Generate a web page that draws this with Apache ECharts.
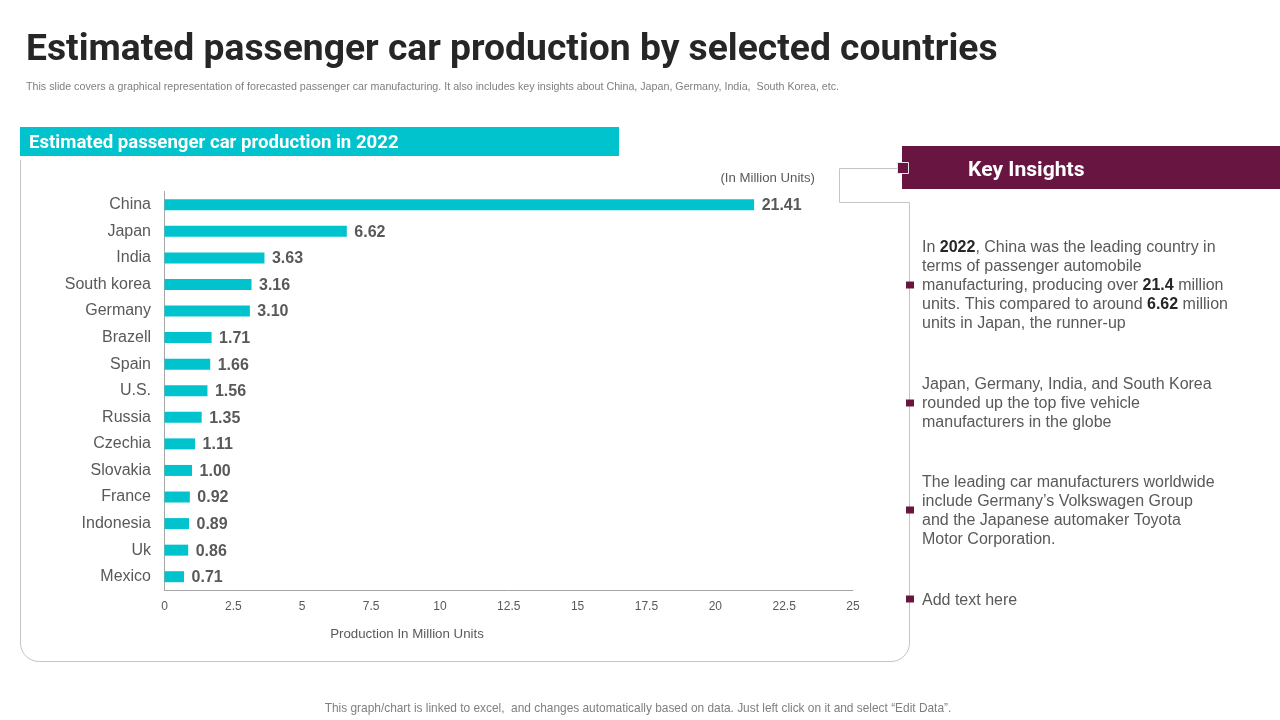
<!DOCTYPE html>
<html>
<head>
<meta charset="utf-8">
<title>Estimated passenger car production</title>
<script src="https://cdn.jsdelivr.net/npm/echarts@6/dist/echarts.min.js"></script>
<style>
html, body { margin: 0; padding: 0; background: #fff; }
#chart { width: 1280px; height: 720px; }
</style>
</head>
<body>
<div id="chart"></div>
<script>
// values
const countries = ['China', 'Japan', 'India', 'South korea', 'Germany', 'Brazell', 'Spain', 'U.S.', 'Russia', 'Czechia', 'Slovakia', 'France', 'Indonesia', 'Uk', 'Mexico'];
const production = [21.41, 6.62, 3.63, 3.16, 3.10, 1.71, 1.66, 1.56, 1.35, 1.11, 1.00, 0.92, 0.89, 0.86, 0.71];

const titleText = 'Estimated passenger car production by selected countries';
const subtitleText = 'This slide covers a graphical representation of forecasted passenger car manufacturing. It also includes key insights about China, Japan, Germany, India,  South Korea, etc.';
const bannerText = 'Estimated passenger car production in 2022';
const unitText = '(In Million Units)';
const axisTitle = 'Production In Million Units';
const footerText = 'This graph/chart is linked to excel,  and changes automatically based on data. Just left click on it and select \u201CEdit Data\u201D.';

// {b|..} marks the bold words
const insightLines = [
	[246, 'In {b|2022}, China was the leading country in'],
	[265, 'terms of passenger automobile'],
	[284, 'manufacturing, producing over {b|21.4} million'],
	[303, 'units. This compared to around {b|6.62} million'],
	[322, 'units in Japan, the runner-up'],
	[383, 'Japan, Germany, India, and South Korea'],
	[402, 'rounded up the top five vehicle'],
	[421, 'manufacturers in the globe'],
	[481, 'The leading car manufacturers worldwide'],
	[500, 'include Germany\u2019s Volkswagen Group'],
	[519, 'and the Japanese automaker Toyota'],
	[538, 'Motor Corporation.'],
	[599, 'Add text here'],
];
const bulletRows = [285, 403, 510, 599];

const TEAL = '#00c3cd';
const PURPLE = '#681641';
const GREY = '#595959';
const BODY_FONT = '"Liberation Sans", Arial, sans-serif';
const HEAD_FONT = 'Roboto, sans-serif';
const outline = { fill: null, stroke: '#c4c4c4', lineWidth: 1 };

// y is where the text centre should land, middle alignment sits a bit high
function label(x, y, text, size, color, extra, stretch) {
	return {
		type: 'text',
		x: x,
		y: y + size * 0.11,
		scaleX: stretch || 1,
		silent: true,
		style: Object.assign({
			text: text,
			fontFamily: BODY_FONT,
			fontSize: size,
			fill: color,
			verticalAlign: 'middle',
		}, extra || {}),
	};
}

const headStyle = { fontFamily: HEAD_FONT, fontWeight: 'bold' };

let shapes = [
	// panel outline + connector to the key insights box
	{ type: 'polyline', silent: true, shape: { points: [[20.5, 160], [20.5, 643]] }, style: outline },
	{ type: 'arc', silent: true, shape: { cx: 39, cy: 643, r: 18.5, startAngle: Math.PI / 2, endAngle: Math.PI, clockwise: true }, style: outline },
	{ type: 'polyline', silent: true, shape: { points: [[39, 661.5], [891, 661.5]] }, style: outline },
	{ type: 'arc', silent: true, shape: { cx: 891, cy: 643, r: 18.5, startAngle: 0, endAngle: Math.PI / 2, clockwise: true }, style: outline },
	{ type: 'polyline', silent: true, shape: { points: [[909.5, 643], [909.5, 202.5], [839.5, 202.5], [839.5, 168.5], [902, 168.5]] }, style: outline },
	{ type: 'rect', silent: true, shape: { x: 20, y: 127, width: 599, height: 29 }, style: { fill: TEAL } },
	{ type: 'rect', silent: true, shape: { x: 902, y: 146, width: 378, height: 43 }, style: { fill: PURPLE } },
	{ type: 'rect', silent: true, shape: { x: 897.5, y: 162.5, width: 11, height: 11 }, style: { fill: PURPLE, stroke: '#e6e6e6', lineWidth: 1 } },
	label(26, 47, titleText, 36, '#262626', headStyle, 1.034),
	label(26, 86, subtitleText, 10.7, '#7f7f7f'),
	label(29, 142, bannerText, 18, '#fff', headStyle, 1.034),
	label(968, 169, 'Key Insights', 20, '#fff', headStyle, 1.055),
	label(815, 177, unitText, 13.2, GREY, { align: 'right' }),
	label(407, 633, axisTitle, 13.3, GREY, { align: 'center' }),
	label(638, 707, footerText, 11.9, '#7f7f7f', { align: 'center' }),
];

for (let y of bulletRows) {
	shapes.push({ type: 'rect', silent: true, shape: { x: 906, y: y - 3.5, width: 8, height: 7 }, style: { fill: PURPLE } });
}
for (let [y, line] of insightLines) {
	shapes.push(label(922, y, line, 16, GREY, {
		rich: { b: { fontFamily: BODY_FONT, fontSize: 16, fontWeight: 'bold', fill: '#262626' } },
	}));
}

echarts.init(document.getElementById('chart')).setOption({
	animation: false,
	backgroundColor: '#fff',
	grid: { left: 164.5, top: 191.5, width: 688.5, height: 398.5, containLabel: false },
	xAxis: {
		type: 'value',
		min: 0,
		max: 25,
		interval: 2.5,
		splitLine: { show: false },
		axisTick: { show: false },
		axisLine: { show: true, lineStyle: { color: '#a6a6a6' } },
		axisLabel: { color: GREY, fontFamily: BODY_FONT, fontSize: 12, margin: 11 },
	},
	yAxis: {
		type: 'category',
		inverse: true,
		data: countries,
		axisTick: { show: false },
		axisLine: { show: true, lineStyle: { color: '#a6a6a6' } },
		axisLabel: { color: GREY, fontFamily: BODY_FONT, fontSize: 16, margin: 13.5, padding: [1, 0, 0, 0] },
	},
	series: [{
		type: 'bar',
		data: production,
		barWidth: 11,
		itemStyle: { color: TEAL },
		label: {
			show: true,
			position: 'right',
			distance: 7.5,
			offset: [0, 1],
			color: GREY,
			fontFamily: BODY_FONT,
			fontSize: 16,
			fontWeight: 'bold',
			formatter: p => p.value.toFixed(2),
		},
	}],
	graphic: shapes,
});
</script>
</body>
</html>
